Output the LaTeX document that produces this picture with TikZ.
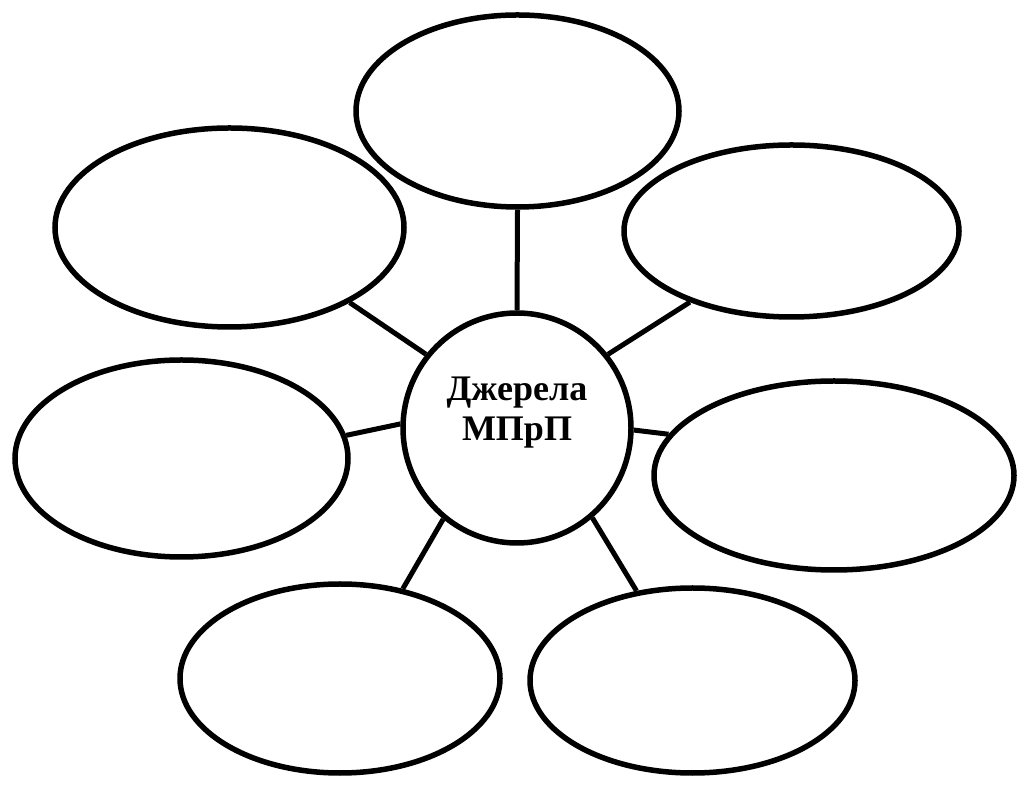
\documentclass[tikz,border=0pt]{standalone}
\usepackage{fontspec}
\setmainfont{Liberation Serif}
\usetikzlibrary{shapes.geometric}
\begin{document}
\begin{tikzpicture}[x=1pt,y=1pt,
  bub/.style={draw=black,line width=5.5pt,ellipse,inner sep=0pt,fill=white},
  link/.style={draw=black,line width=5pt}]
\useasboundingbox[fill=white] (0,0) rectangle (1024,789);
\node[bub,minimum width=228,minimum height=230,
  label={[name=Ctext,font=\bfseries\fontsize{36}{40}\selectfont,align=center,yshift=15pt]center:Джерела\\МПрП}] (C) at (517,789-428) {};
\node[bub,minimum width=323,minimum height=192] (T) at (517.5,789-111) {};
\node[bub,minimum width=349,minimum height=199] (TL) at (229.5,789-227.5) {};
\node[bub,minimum width=335,minimum height=172] (TR) at (791.5,789-231) {};
\node[bub,minimum width=333,minimum height=197] (L) at (181.5,789-458.5) {};
\node[bub,minimum width=360,minimum height=189] (R) at (834,789-475.5) {};
\node[bub,minimum width=320,minimum height=189] (BL) at (340,789-678.5) {};
\node[bub,minimum width=325,minimum height=185] (BR) at (692.5,789-680.5) {};
\draw[link] (C.90) -- (T.-90);
\draw[link] (C.141) -- (TL.-32.8);
\draw[link] (C.39.4) -- (TR.-145.9);
\draw[link] (C.178) -- (L.8.7);
\draw[link] (C.-1.5) -- (R.166.9);
\draw[link] (C.-129.2) -- (BL.55);
\draw[link] (C.-50) -- (BR.122.7);
\end{tikzpicture}
\end{document}
